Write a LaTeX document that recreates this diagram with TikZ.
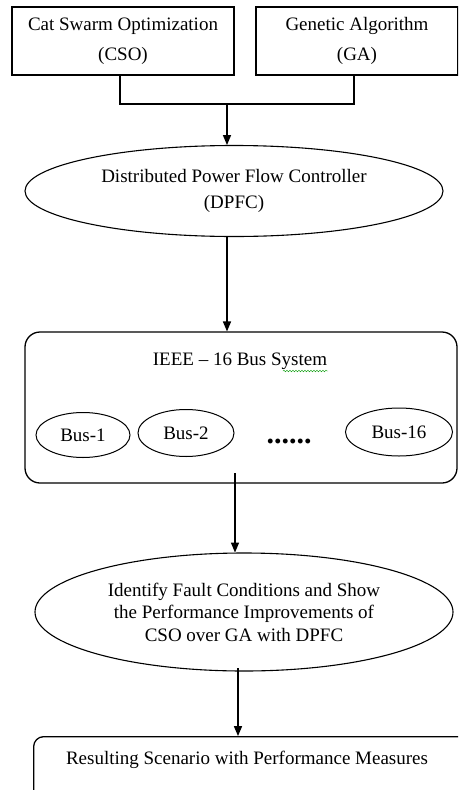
\documentclass[tikz,border=0pt]{standalone}
\usepackage{fontspec}
\setmainfont{Liberation Serif}
\usetikzlibrary{arrows,shapes.geometric,decorations.pathmorphing}

\tikzset{
  box/.style={draw, line width=1.3pt, inner sep=0pt, align=center},
  oval/.style={draw, line width=1.1pt, ellipse, inner sep=0pt, align=center},
  busoval/.style={draw, line width=1pt, ellipse, inner sep=0pt, minimum width=94pt, minimum height=45pt},
  flow/.style={line width=1.3pt, -triangle 45}
}

\begin{document}
\begin{tikzpicture}[x=1pt,y=-1pt,font=\fontsize{19}{30}\selectfont]
\useasboundingbox (0,0) rectangle (458,790);
\clip (0,0) rectangle (458,790);
% top boxes
\node[box, minimum width=222pt, minimum height=68pt] (cso) at (123,41) {Cat Swarm Optimization\\(CSO)};
\node[box, minimum width=202pt, minimum height=68pt] (ga) at (357,41) {Genetic Algorithm\\(GA)};
% controller
\node[oval, minimum width=418pt, minimum height=91pt, font=\fontsize{19}{26}\selectfont] (dpfc) at (234,191)
  {Distributed Power Flow Controller\\(DPFC)};
% bus system
\node[box, rounded corners=15pt, minimum width=432pt, minimum height=151pt] (ieee) at (241,407.5) {};
\node (title) at (240,361) {IEEE -- 16 Bus System};
\draw[green!60!black, decorate, decoration={snake, amplitude=0.8pt, segment length=3pt}]
  (283,371) -- (328,371);
\node[busoval] (bus1) at (83,435) {Bus-1};
\node[busoval, minimum width=96pt, minimum height=47pt] (bus2) at (186,433) {Bus-2};
\node[font=\fontsize{30}{30}\selectfont\bfseries] (dots) at (289,441) {......};
\node[busoval, minimum width=107pt, minimum height=48pt] (bus16) at (399,432) {Bus-16};
% fault ellipse
\node[oval, minimum width=418pt, minimum height=118pt, font=\fontsize{19}{22.5}\selectfont] (fault) at (244,612)
  {Identify Fault Conditions and Show\\the Performance Improvements of\\CSO over GA with DPFC};
% result
\node[box, rounded corners=10pt, minimum width=440pt, minimum height=70pt, anchor=north west] (result) at (33,736) {};
\node (restext) at (247,760) {Resulting Scenario with Performance Measures};
% connectors
\coordinate (join) at (227,104);
\draw[line width=1.3pt] (cso.south -| 120,0) |- (join) -| (ga.south -| 354,0);
\draw[flow] (join) -- (join |- dpfc.north);
\draw[flow] (dpfc.south -| join) -- (ieee.north -| join);
\coordinate (tap) at (235,473);
\draw[flow] (tap) -- (tap |- fault.north);
\coordinate (tapb) at (238,668);
\draw[flow] (tapb) -- (tapb |- result.north);
\end{tikzpicture}
\end{document}
